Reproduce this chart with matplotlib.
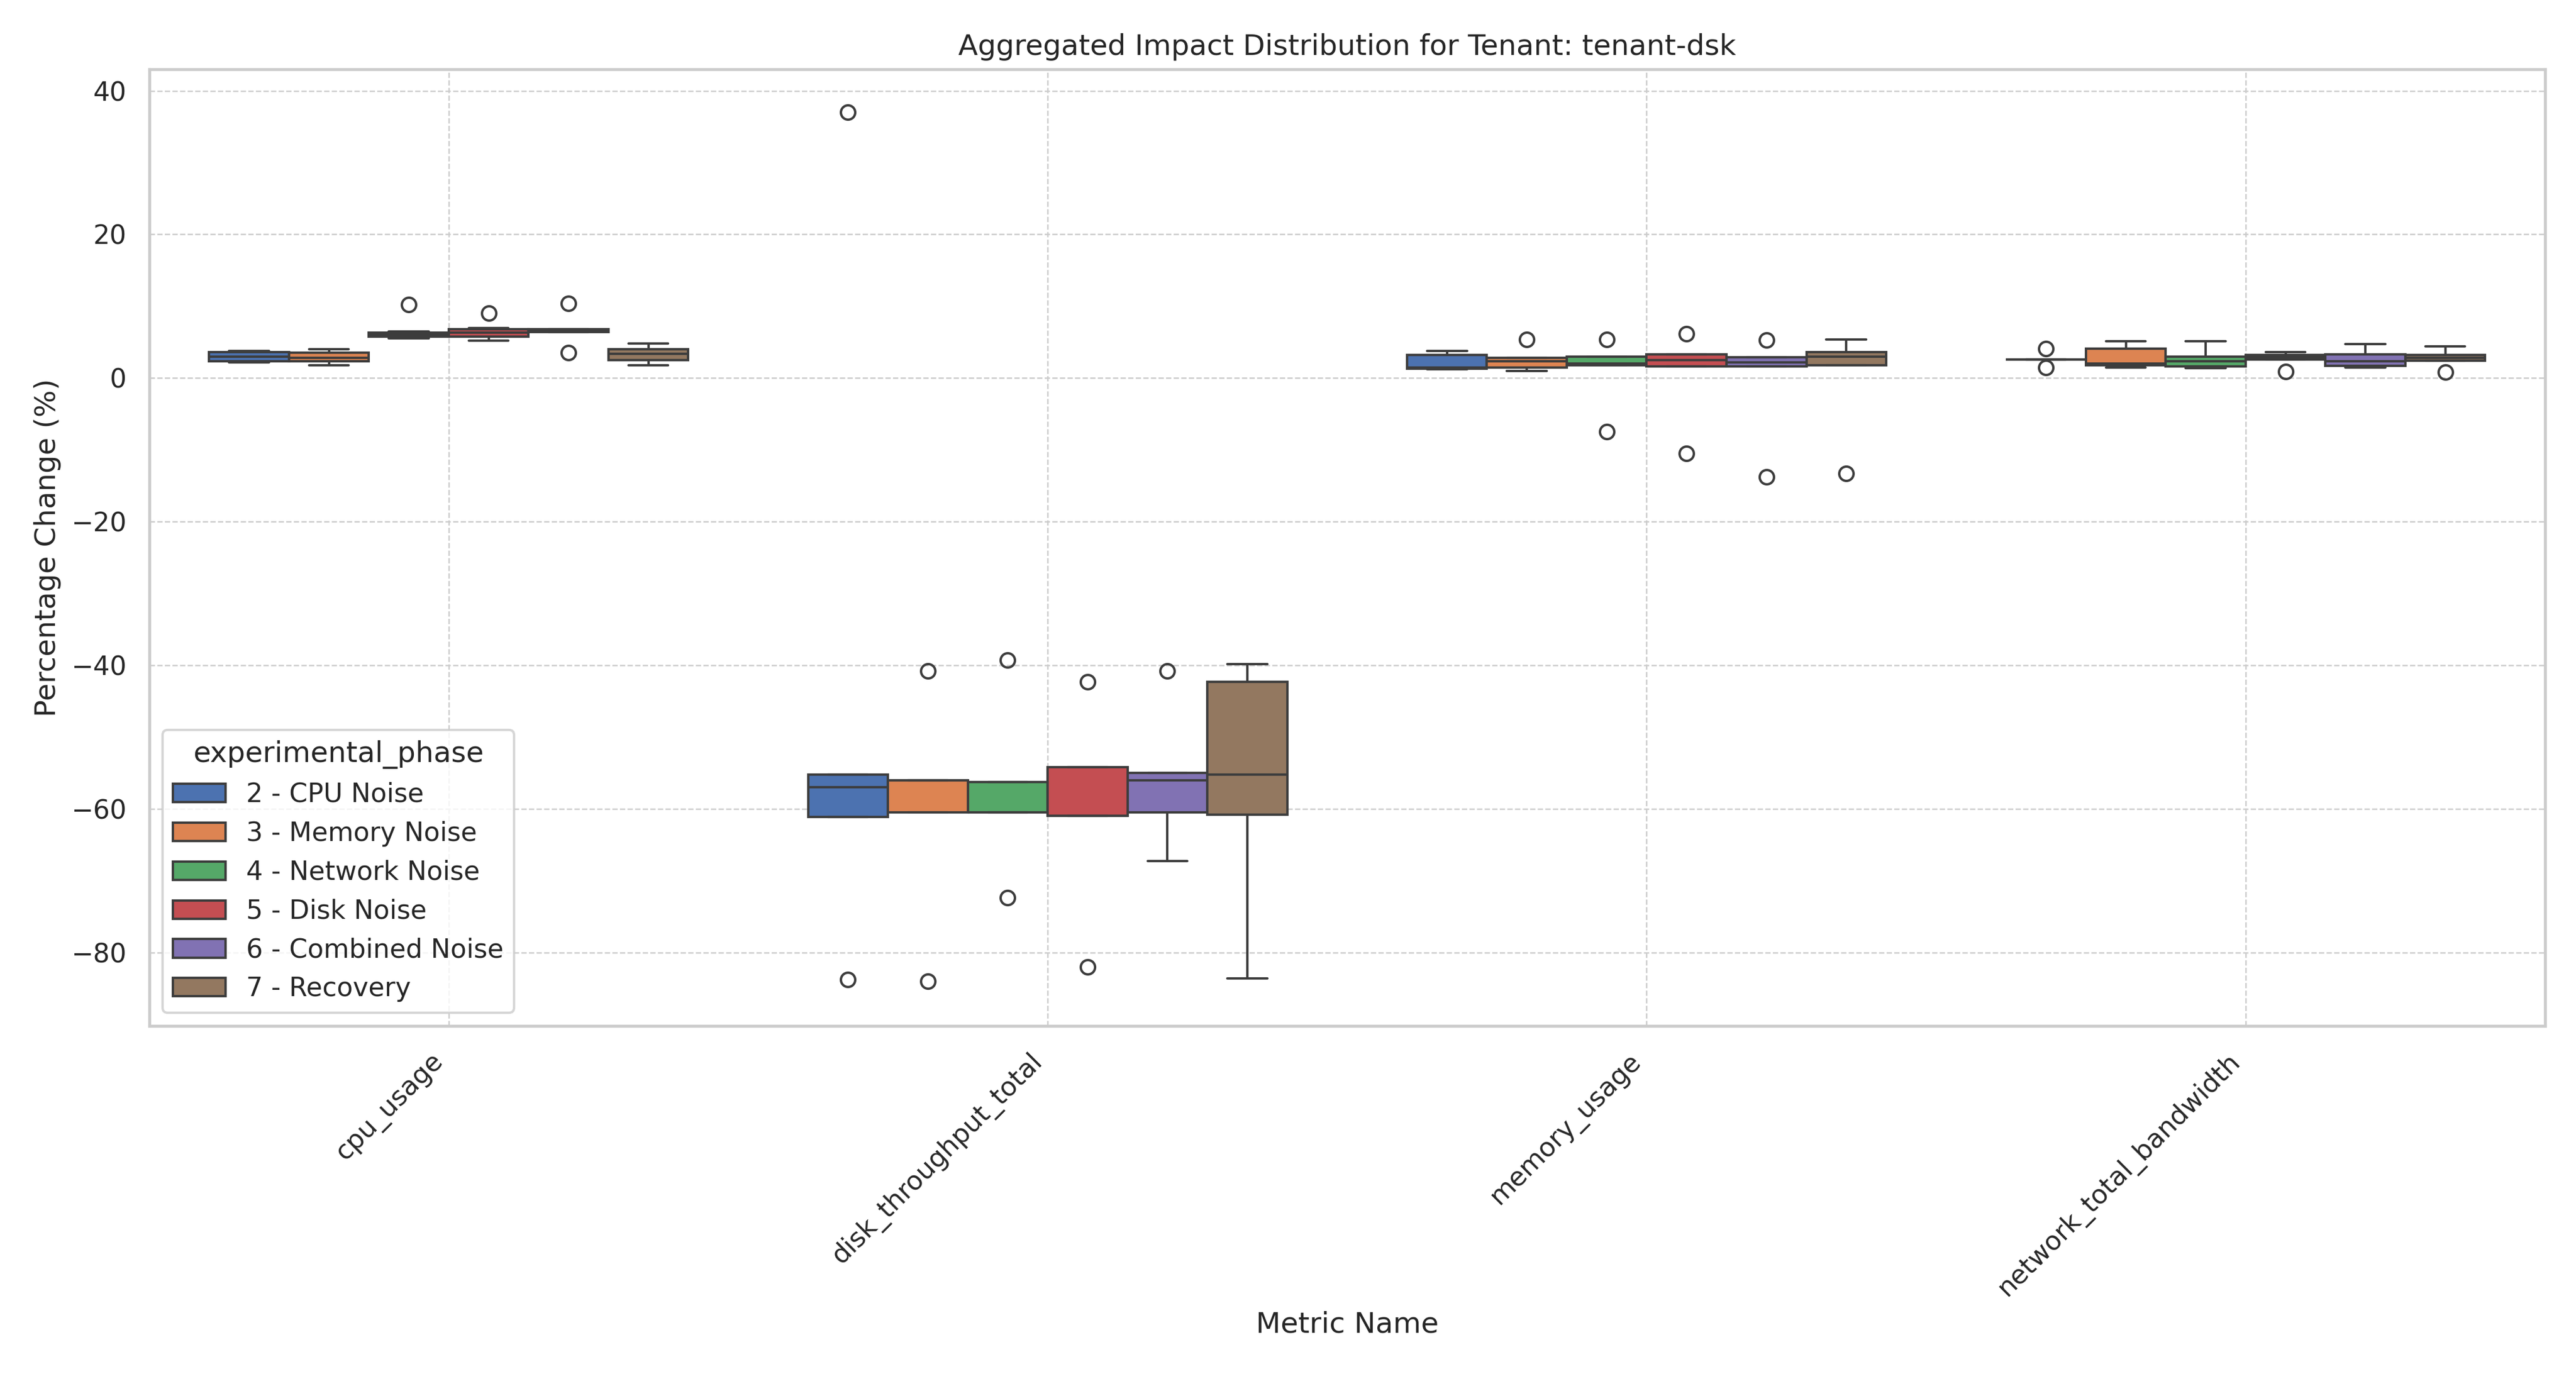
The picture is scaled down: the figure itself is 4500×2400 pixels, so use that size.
import matplotlib
matplotlib.use('Agg')
import matplotlib.pyplot as plt
import seaborn as sns
import numpy as np
from matplotlib.patches import Patch

sns.set_theme(style='whitegrid')

metrics = ['cpu_usage', 'disk_throughput_total', 'memory_usage', 'network_total_bandwidth']
phases = ['2 - CPU Noise', '3 - Memory Noise', '4 - Network Noise', '5 - Disk Noise',
          '6 - Combined Noise', '7 - Recovery']

# per metric, per phase: (whislo, q1, med, q3, whishi, fliers)
cpu_usage = [
    (2.2, 2.3, 3.0, 3.6, 3.8, []),
    (1.8, 2.3, 2.8, 3.5, 4.0, []),
    (5.5, 5.8, 6.0, 6.3, 6.5, [10.2]),
    (5.2, 5.8, 6.3, 6.8, 7.0, [9.0]),
    (6.4, 6.4, 6.6, 6.8, 6.8, [10.4, 3.5]),
    (1.8, 2.5, 3.4, 4.0, 4.8, []),
]
disk_throughput_total = [
    (-61.1, -61.1, -57.0, -55.2, -55.2, [37.0, -83.8]),
    (-60.5, -60.5, -56.0, -56.0, -56.0, [-40.8, -84.0]),
    (-60.5, -60.5, -60.5, -56.3, -56.3, [-39.3, -72.4]),
    (-61.0, -61.0, -61.0, -54.2, -54.2, [-42.3, -82.0]),
    (-67.3, -60.5, -56.0, -55.0, -55.0, [-40.8]),
    (-83.6, -60.8, -55.2, -42.3, -39.8, []),
]
memory_usage = [
    (1.2, 1.3, 1.5, 3.2, 3.8, []),
    (1.0, 1.5, 2.3, 2.8, 2.8, [5.4]),
    (1.8, 1.8, 2.0, 3.0, 3.0, [5.4, -7.5]),
    (1.6, 1.6, 2.5, 3.3, 3.3, [6.2, -10.5]),
    (1.6, 1.6, 2.2, 2.9, 2.9, [5.3, -13.8]),
    (1.8, 1.8, 3.0, 3.6, 5.4, [-13.3]),
]
network_total_bandwidth = [
    (2.6, 2.6, 2.6, 2.6, 2.6, [4.1, 1.5]),
    (1.5, 1.8, 2.0, 4.1, 5.1, []),
    (1.4, 1.6, 2.3, 3.0, 5.1, []),
    (2.6, 2.6, 2.9, 3.2, 3.6, [0.9]),
    (1.5, 1.7, 2.3, 3.3, 4.7, []),
    (2.4, 2.4, 2.8, 3.2, 4.4, [0.8]),
]
all_stats = [cpu_usage, disk_throughput_total, memory_usage, network_total_bandwidth]

colors = sns.color_palette('deep', len(phases))
edge = '#3d3d3d'

fig, ax = plt.subplots(figsize=(15, 8))
w = 0.8 / len(phases)
for m, stats in enumerate(all_stats):
    for p, s in enumerate(stats):
        pos = m - 0.4 + w * (p + 0.5)
        d = dict(whislo=s[0], q1=s[1], med=s[2], q3=s[3], whishi=s[4], fliers=s[5])
        ax.bxp([d], positions=[pos], widths=w, patch_artist=True, manage_ticks=False,
               boxprops=dict(facecolor=colors[p], edgecolor=edge, linewidth=1),
               medianprops=dict(color=edge, linewidth=1),
               whiskerprops=dict(color=edge, linewidth=1),
               capprops=dict(color=edge, linewidth=1),
               capwidths=w / 2,
               flierprops=dict(marker='o', markerfacecolor='none', markeredgecolor=edge,
                               markersize=6, linestyle='none'))

ax.set_xlim(-0.5, len(metrics) - 0.5)
ax.set_ylim(-90.2, 43)
ax.set_xticks(range(len(metrics)))
ax.set_xticklabels(metrics, rotation=45, ha='right')
ax.grid(True, linestyle='--', linewidth=0.6)
ax.set_title('Aggregated Impact Distribution for Tenant: tenant-dsk')
ax.set_xlabel('Metric Name')
ax.set_ylabel('Percentage Change (%)')
handles = [Patch(facecolor=colors[i], edgecolor=edge, label=phases[i]) for i in range(len(phases))]
ax.legend(handles=handles, title='experimental_phase', loc='lower left')
plt.tight_layout()
plt.savefig('out.png', dpi=300)
